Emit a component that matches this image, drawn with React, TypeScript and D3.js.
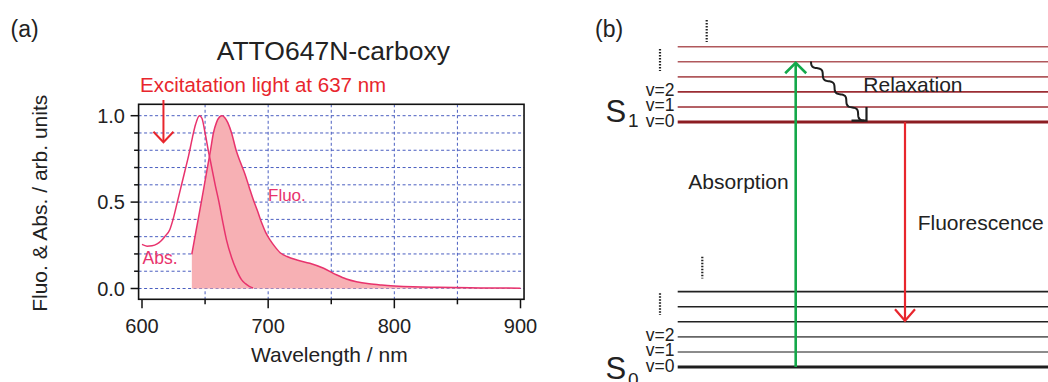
import React from "react";
import * as d3 from "d3";

// ---------- Panel (a) data ----------
const absWl = [600, 604, 608, 612, 615, 618, 622, 625, 628, 631, 634, 637, 640, 642.5, 645.5, 647.5, 650, 652.5, 655, 658, 661, 664, 667, 671, 675, 679, 682, 685, 688];
const absVal = [0.255, 0.245, 0.247, 0.258, 0.275, 0.3, 0.34, 0.41, 0.5, 0.59, 0.68, 0.77, 0.875, 0.95, 1.0, 0.985, 0.9, 0.8, 0.71, 0.6, 0.5, 0.385, 0.28, 0.18, 0.105, 0.05, 0.028, 0.012, 0.003];

const fluoWl = [639.5, 643, 647, 651, 654.3, 656.6, 659, 661.5, 663.5, 665.5, 668, 671, 674.6, 678, 681.7, 685, 688.3, 692, 695, 698, 701.6, 705, 709.5, 715, 722.8, 733, 744, 754.5, 762, 770, 780, 790, 800, 815, 835, 860, 880, 900];
const fluoVal = [0.198, 0.34, 0.5, 0.665, 0.8, 0.9, 0.96, 0.993, 1.0, 0.99, 0.96, 0.9, 0.8, 0.73, 0.66, 0.585, 0.512, 0.44, 0.377, 0.325, 0.28, 0.245, 0.207, 0.185, 0.165, 0.146, 0.117, 0.078, 0.055, 0.039, 0.027, 0.02, 0.015, 0.01, 0.007, 0.004, 0.003, 0.002];

const xMajorTicks = [600, 700, 800, 900];
const xMinorTicks = [650, 750, 850];
const xGrid = [650, 700, 750, 800, 850];
const yMajorTicks = [0, 0.5, 1.0];
const yMinorTicks = [0.1, 0.2, 0.3, 0.4, 0.6, 0.7, 0.8, 0.9];
const yGrid = [0, 0.1, 0.2, 0.3, 0.4, 0.5, 0.6, 0.7, 0.8, 0.9, 1.0];
const excitationMarkWl = 617;

// ---------- Panel (b) data ----------
const s0Levels = [0, 1, 2, 3, 4, 5];
const s1Levels = [16.25, 17.25, 18.25, 19.25, 20.25, 21.25];
const vLabels = ["v=0", "v=1", "v=2"];
const absorptionFrom = 0;
const absorptionTo = 20.25;
const fluorescenceFrom = 16.25;
const fluorescenceTo = 3;
const relaxFrom = 20.25;
const relaxTo = 16.25;

const FONT = "'Liberation Sans', Arial, Helvetica, sans-serif";
const PINK = "#e8336d";
const RED = "#e8262d";
const GRID = "#4a5ec0";

export default function App() {
  // panel (a) scales
  const x = d3.scaleLinear().domain([600, 900]).range([142, 520.5]);
  const y = d3.scaleLinear().domain([0, 1]).range([288.5, 115.7]);
  const fx0 = x(597.3), fx1 = x(902.8), fy0 = y(1.066), fy1 = y(-0.0625);

  const absData = absWl.map((w, i) => [w, absVal[i]] as [number, number]);
  const fluoData = fluoWl.map((w, i) => [w, fluoVal[i]] as [number, number]);
  const line = d3.line<[number, number]>().x(d => x(d[0])).y(d => y(d[1])).curve(d3.curveMonotoneX);
  const area = d3.area<[number, number]>().x(d => x(d[0])).y0(y(0)).y1(d => y(d[1])).curve(d3.curveMonotoneX);

  // panel (b) scale
  const e = d3.scaleLinear().domain([0, 21.25]).range([367, 46.7]);
  const lx0 = 677.7, lx1 = 1048;
  const absX = 795.7, fluX = 905;

  const s1Color = (i: number) => (i === 0 ? "#8c1c22" : i <= 2 ? "#9b2d33" : "#b0585c");
  const s1Width = (i: number) => (i === 0 ? 3 : 1.6);
  const s0Color = (i: number) => (i === 0 ? "#1e1e1e" : i <= 2 ? "#666" : "#222");
  const s0Width = (i: number) => (i === 0 ? 3 : 1.6);

  // wavy relaxation path
  const rx0 = 811, ry0 = e(relaxFrom) - 0.2, rx1 = 864, ry1 = e(relaxTo) - 1.5;
  const dx = rx1 - rx0, dy = ry1 - ry0, len = Math.hypot(dx, dy);
  const ux = dx / len, uy = dy / len, nx = -uy, ny = ux;
  const wavePts: [number, number][] = d3.range(0, 1.0001, 0.01).map(t => {
    const amp = 2.3 * Math.sin(t * Math.PI * 2 * 4.5);
    return [rx0 + dx * t + nx * amp, ry0 + dy * t + ny * amp];
  });
  const wavePath = d3.line().curve(d3.curveLinear)(wavePts) || "";
  const tipX = 866.5, tipY = e(relaxTo) - 1.5;

  return (
    <svg width={1048} height={382} style={{ position: "absolute", left: 0, top: 0, background: "#fff" }} fontFamily={FONT}>
      <rect x={0} y={0} width={1048} height={382} fill="#fff" />
      {/* ---------- Panel (a) ---------- */}
      <text x={10.5} y={37} fontSize={23} fill="#222">(a)</text>
      <text x={(fx0 + fx1) / 2 + 2} y={59.5} fontSize={26.5} fill="#222" textAnchor="middle">ATTO647N-carboxy</text>

      {/* grid */}
      {yGrid.map(v => (
        <line key={"yg" + v} x1={fx0} x2={fx1} y1={y(v)} y2={y(v)} stroke={GRID} strokeWidth={1} strokeDasharray="3,2.5" />
      ))}
      {xGrid.map(v => (
        <line key={"xg" + v} x1={x(v)} x2={x(v)} y1={fy0} y2={fy1} stroke={GRID} strokeWidth={1} strokeDasharray="3,2.5" />
      ))}

      {/* fluorescence area and line */}
      <path d={area(fluoData) || ""} fill="#f7b0b4" />
      <path d={line(fluoData) || ""} fill="none" stroke={PINK} strokeWidth={1.5} />
      <path d={line(absData) || ""} fill="none" stroke={PINK} strokeWidth={1.5} />

      {/* frame */}
      <rect x={fx0} y={fy0} width={fx1 - fx0} height={fy1 - fy0} fill="none" stroke="#111" strokeWidth={1.6} />

      {/* y ticks */}
      {yMajorTicks.map(v => (
        <g key={"ym" + v}>
          <line x1={fx0 - 8} x2={fx0} y1={y(v)} y2={y(v)} stroke="#111" strokeWidth={1.5} />
          <text x={125} y={y(v)} dy="0.36em" fontSize={20} fill="#222" textAnchor="end">{v.toFixed(1)}</text>
        </g>
      ))}
      {yMinorTicks.map(v => (
        <line key={"yn" + v} x1={fx0 - 4.5} x2={fx0} y1={y(v)} y2={y(v)} stroke="#111" strokeWidth={1.5} />
      ))}
      {/* x ticks */}
      {xMajorTicks.map(v => (
        <g key={"xm" + v}>
          <line x1={x(v)} x2={x(v)} y1={fy1} y2={fy1 + 9} stroke="#111" strokeWidth={1.5} />
          <text x={x(v)} y={333.3} fontSize={20} fill="#222" textAnchor="middle">{v}</text>
        </g>
      ))}
      {xMinorTicks.map(v => (
        <line key={"xn" + v} x1={x(v)} x2={x(v)} y1={fy1} y2={fy1 + 5} stroke="#111" strokeWidth={1.5} />
      ))}

      <text x={(fx0 + fx1) / 2 - 2} y={361.7} fontSize={21} fill="#222" textAnchor="middle">Wavelength / nm</text>
      <text transform={`translate(46.5, 203.3) rotate(-90)`} fontSize={21} fill="#222" textAnchor="middle">Fluo. &amp; Abs. / arb. units</text>

      {/* excitation annotation */}
      <text x={140} y={91.7} fontSize={20.5} fill={RED}>Excitatation light at 637 nm</text>
      <line x1={x(excitationMarkWl)} x2={x(excitationMarkWl)} y1={100} y2={142} stroke={RED} strokeWidth={2} />
      <path d={`M${x(excitationMarkWl) - 10},131.7 L${x(excitationMarkWl)},142.3 L${x(excitationMarkWl) + 10},131.7`} fill="none" stroke={RED} strokeWidth={2} />

      <text x={268} y={201} fontSize={17} fill={PINK}>Fluo.</text>
      <text x={142.5} y={264} fontSize={17.5} fill={PINK}>Abs.</text>

      {/* ---------- Panel (b) ---------- */}
      <text x={595} y={37} fontSize={23} fill="#222">(b)</text>

      {s1Levels.map((lv, i) => (
        <line key={"s1" + i} x1={lx0} x2={lx1} y1={e(lv)} y2={e(lv)} stroke={s1Color(i)} strokeWidth={s1Width(i)} />
      ))}
      {s0Levels.map((lv, i) => (
        <line key={"s0" + i} x1={lx0} x2={lx1} y1={e(lv)} y2={e(lv)} stroke={s0Color(i)} strokeWidth={s0Width(i)} />
      ))}

      {vLabels.map((t, i) => (
        <g key={"vl" + i}>
          <text x={674.5} y={e(s1Levels[i]) + 4.5} fontSize={17.5} fill="#222" textAnchor="end">{t}</text>
          <text x={674.5} y={e(s0Levels[i]) + 4.5} fontSize={17.5} fill="#222" textAnchor="end">{t}</text>
        </g>
      ))}

      <text x={605.5} y={e(s1Levels[0])} fontSize={31} fill="#222">S</text>
      <text x={628} y={e(s1Levels[0]) + 5} fontSize={19} fill="#222">1</text>
      <text x={605.5} y={379} fontSize={31} fill="#222">S</text>
      <text x={628} y={386} fontSize={19} fill="#222">0</text>

      {/* dotted continuation markers */}
      {[
        [706.7, 20, 42],
        [660, 49, 71],
        [702.3, 256.7, 278.5],
        [660, 293.3, 315],
      ].map((d, i) => (
        <line key={"dot" + i} x1={d[0]} x2={d[0]} y1={d[1]} y2={d[2]} stroke="#222" strokeWidth={2.2} strokeDasharray="1.5,1.5" />
      ))}

      {/* absorption arrow */}
      <line x1={absX} x2={absX} y1={e(absorptionFrom)} y2={e(absorptionTo) + 1} stroke="#14a84a" strokeWidth={2.6} />
      <path d={`M${absX - 10.5},${e(absorptionTo) + 11.5} L${absX},${e(absorptionTo) + 1} L${absX + 10.5},${e(absorptionTo) + 11.5}`} fill="none" stroke="#14a84a" strokeWidth={2.6} />
      <text x={688.3} y={189.3} fontSize={21} fill="#222">Absorption</text>

      {/* fluorescence arrow */}
      <line x1={fluX} x2={fluX} y1={e(fluorescenceFrom)} y2={e(fluorescenceTo) - 1} stroke={RED} strokeWidth={2.2} />
      <path d={`M${fluX - 10},${e(fluorescenceTo) - 12.5} L${fluX},${e(fluorescenceTo) - 1} L${fluX + 10},${e(fluorescenceTo) - 12.5}`} fill="none" stroke={RED} strokeWidth={2.2} />
      <text x={917.7} y={230} fontSize={21} fill="#222">Fluorescence</text>

      {/* relaxation wavy arrow */}
      <path d={wavePath} fill="none" stroke="#1e1e1e" strokeWidth={2} />
      <path d={`M${tipX - 15},${tipY} L${tipX},${tipY} L${tipX},${tipY - 13.5}`} fill="none" stroke="#1e1e1e" strokeWidth={2.2} />
      <text x={863.3} y={91.7} fontSize={21} fill="#222">Relaxation</text>
    </svg>
  );
}
